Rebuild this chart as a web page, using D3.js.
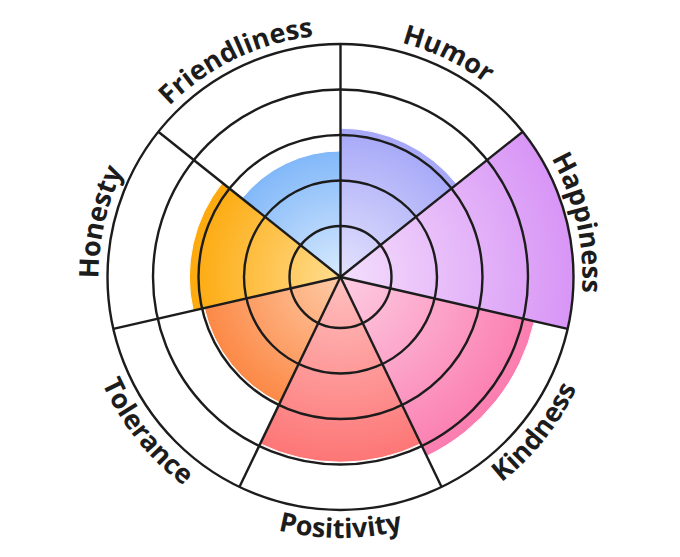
<!DOCTYPE html>
<html>
<head>
<meta charset="utf-8">
<script src="https://cdn.jsdelivr.net/npm/d3@7"></script>
<style>
  html, body { margin: 0; padding: 0; background: #fff; }
  svg { display: block; }
  .label { font-family: "Open Sans", "Noto Sans", sans-serif; font-weight: 700; font-size: 27px; fill: #1c1c1c; }
</style>
</head>
<body>
<svg id="chart" width="680" height="557"></svg>
<script>
// data (scale 0..5)
const categories = ["Humor", "Happiness", "Kindness", "Positivity", "Tolerance", "Honesty", "Friendliness"];
const values = [3.15, 5, 4.25, 3.95, 2.95, 3.2, 2.65];
const ringLevels = [1, 2, 3, 4, 5];
const colorsInner = ["#e4e2fd", "#f4defc", "#fdcde3", "#ffc0c0", "#fecaa6", "#ffdd90", "#d8eafe"];
const colorsOuter = ["#a6a8f8", "#d895f6", "#fb7db0", "#fd7676", "#fc8946", "#fda90c", "#82b8f9"];

const width = 680, height = 557;
const cx = 340.5, cy = 277;
const outerR = 233;

const svg = d3.select("#chart");
const g = svg.append("g").attr("transform", `translate(${cx},${cy})`);

const angle = d3.scaleBand().domain(categories).range([0, 2 * Math.PI]).padding(0);
const r = d3.scaleLinear().domain([0, 5]).range([5.5, outerR]);

const data = categories.map((c, i) => ({
  cat: c,
  value: values[i],
  a0: angle(c),
  a1: angle(c) + angle.bandwidth(),
  inner: colorsInner[i],
  outer: colorsOuter[i]
}));

// gradients
const defs = svg.append("defs");
data.forEach((d, i) => {
  const grad = defs.append("radialGradient")
    .attr("id", "grad" + i)
    .attr("gradientUnits", "userSpaceOnUse")
    .attr("cx", 0).attr("cy", 0)
    .attr("r", r(d.value));
  grad.append("stop").attr("offset", "0%").attr("stop-color", d.inner);
  grad.append("stop").attr("offset", "100%").attr("stop-color", d.outer);
});

// filled sectors
const arc = d3.arc()
  .innerRadius(0)
  .outerRadius(d => r(d.value))
  .startAngle(d => d.a0)
  .endAngle(d => d.a1);

g.selectAll("path.sector")
  .data(data)
  .join("path")
  .attr("class", "sector")
  .attr("d", arc)
  .attr("fill", (d, i) => `url(#grad${i})`)
  .attr("stroke", "#fff")
  .attr("stroke-width", 1);

// rings
g.selectAll("circle.ring")
  .data(ringLevels)
  .join("circle")
  .attr("class", "ring")
  .attr("r", d => r(d))
  .attr("fill", "none")
  .attr("stroke", "#1c1c1c")
  .attr("stroke-width", 2.4);

// spokes
g.selectAll("line.spoke")
  .data(data)
  .join("line")
  .attr("class", "spoke")
  .attr("x1", 0).attr("y1", 0)
  .attr("x2", d => r(5) * Math.sin(d.a0))
  .attr("y2", d => -r(5) * Math.cos(d.a0))
  .attr("stroke", "#1c1c1c")
  .attr("stroke-width", 2.4);

// curved labels
function arcPath(rad, a0, a1, ccw) {
  const p = d3.path();
  const s = ccw ? a1 : a0;
  const e = ccw ? a0 : a1;
  p.moveTo(rad * Math.cos(s - Math.PI / 2), rad * Math.sin(s - Math.PI / 2));
  p.arc(0, 0, rad, s - Math.PI / 2, e - Math.PI / 2, ccw);
  return p.toString();
}

data.forEach((d, i) => {
  const mid = (d.a0 + d.a1) / 2;
  const bottom = mid > Math.PI / 2 + 0.3 && mid < 3 * Math.PI / 2 - 0.3;
  const rad = bottom ? 261 : 242;
  defs.append("path")
    .attr("id", "lp" + i)
    .attr("d", arcPath(rad, d.a0 - 0.3, d.a1 + 0.3, bottom));
});

g.selectAll("text.label")
  .data(data)
  .join("text")
  .attr("class", "label")
  .append("textPath")
  .attr("href", (d, i) => "#lp" + i)
  .attr("startOffset", "50%")
  .attr("text-anchor", "middle")
  .text(d => d.cat);
</script>
</body>
</html>
